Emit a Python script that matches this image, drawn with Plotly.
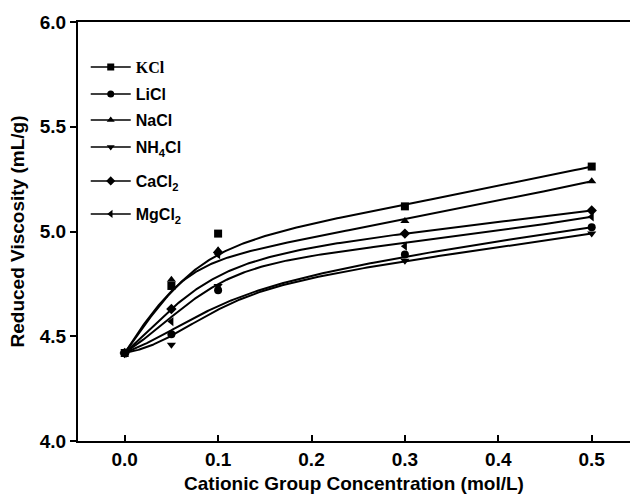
import numpy as np
import plotly.graph_objects as go

conc = [0.0, 0.05, 0.1, 0.3, 0.5]
series_names = ['<span style="font-family:Liberation Serif">KCl</span>', "LiCl", "NaCl",
                "NH<sub>4</sub>Cl", "CaCl<sub>2</sub>", "MgCl<sub>2</sub>"]
kcl = [4.42, 4.74, 4.99, 5.12, 5.31]
licl = [4.42, 4.51, 4.72, 4.89, 5.02]
nacl = [4.42, 4.77, 4.91, 5.05, 5.24]
nh4cl = [4.42, 4.46, 4.74, 4.86, 4.99]
cacl2 = [4.42, 4.63, 4.90, 4.99, 5.10]
mgcl2 = [4.42, 4.57, 4.89, 4.93, 5.07]
values = [kcl, licl, nacl, nh4cl, cacl2, mgcl2]
symbols = ["square", "circle", "triangle-up", "triangle-down", "diamond", "triangle-left"]
x_ticks = [0.0, 0.1, 0.2, 0.3, 0.4, 0.5]
y_ticks = [4.0, 4.5, 5.0, 5.5, 6.0]

# legend item centres (pixels from top of the page) – layout only
legend_centres = [67, 94, 120, 147, 181, 214]
PLOT_TOP, PLOT_BOTTOM = 22, 441


def bspline(px, py, n=200, k=3):
    px = np.asarray(px, float)
    py = np.asarray(py, float)
    m = len(px)
    inner = np.linspace(0, 1, m - k + 1)
    knots = np.concatenate([[0] * k, inner, [1] * k])
    ts = np.linspace(0, 1, n)
    ts[-1] = 1 - 1e-12

    def basis(i, d, t):
        if d == 0:
            return 1.0 if knots[i] <= t < knots[i + 1] else 0.0
        a = 0.0
        if knots[i + d] != knots[i]:
            a = (t - knots[i]) / (knots[i + d] - knots[i]) * basis(i, d - 1, t)
        b = 0.0
        if knots[i + d + 1] != knots[i + 1]:
            b = (knots[i + d + 1] - t) / (knots[i + d + 1] - knots[i + 1]) * basis(i + 1, d - 1, t)
        return a + b

    cx, cy = [], []
    for t in ts:
        w = np.array([basis(i, k, t) for i in range(m)])
        cx.append(float(w @ px))
        cy.append(float(w @ py))
    return cx, cy


FONT = "Liberation Sans, Arial"
fig = go.Figure()
legends = {}
for idx, (name, vals, sym) in enumerate(zip(series_names, values, symbols)):
    cx, cy = bspline(conc, vals)
    fig.add_trace(go.Scatter(x=cx, y=cy, mode="lines", line=dict(color="black", width=2),
                             showlegend=False, hoverinfo="skip"))
    fig.add_trace(go.Scatter(x=conc, y=vals, mode="markers",
                             marker=dict(symbol=sym, size=8, color="black"),
                             showlegend=False))
    lname = "legend" if idx == 0 else f"legend{idx + 1}"
    fig.add_trace(go.Scatter(x=[None], y=[None], mode="lines+markers", name=f"<b>{name}</b>",
                             legend=lname,
                             line=dict(color="black", width=1.5),
                             marker=dict(symbol=sym, size=7, color="black")))
    yc = (PLOT_BOTTOM - legend_centres[idx]) / (PLOT_BOTTOM - PLOT_TOP)
    legends[lname] = dict(x=0.014, y=yc, xanchor="left", yanchor="middle",
                          bgcolor="rgba(0,0,0,0)", borderwidth=0,
                          font=dict(size=16, family=FONT, color="black"),
                          itemwidth=40)

fig.update_layout(
    width=630, height=498,
    margin=dict(l=78, r=0, t=PLOT_TOP, b=498 - PLOT_BOTTOM),
    plot_bgcolor="white", paper_bgcolor="white",
    font=dict(family=FONT, size=19, color="black"),
    showlegend=True,
    **legends,
    xaxis=dict(range=[-0.05, 0.541], tickvals=x_ticks, ticktext=[f"<b>{v:.1f}</b>" for v in x_ticks],
               ticks="inside", ticklen=6, tickwidth=2, tickcolor="black",
               showline=True, linewidth=2, linecolor="black", mirror=True,
               showgrid=False, zeroline=False, automargin=False,
               tickfont=dict(size=19, family=FONT),
               title=dict(text="<b>Cationic Group Concentration (mol/L)</b>", font=dict(size=19), standoff=8)),
    yaxis=dict(range=[4.0, 6.0], tickvals=y_ticks, ticktext=[f"<b>{v:.1f}</b>" for v in y_ticks],
               ticks="outside", ticklen=6, tickwidth=2, tickcolor="black",
               showline=True, linewidth=2, linecolor="black", mirror=False,
               showgrid=False, zeroline=False, automargin=False,
               tickfont=dict(size=19, family=FONT),
               title=dict(text="<b>Reduced Viscosity (mL/g)</b>", font=dict(size=19), standoff=10)),
)
fig.write_html("out.html")
